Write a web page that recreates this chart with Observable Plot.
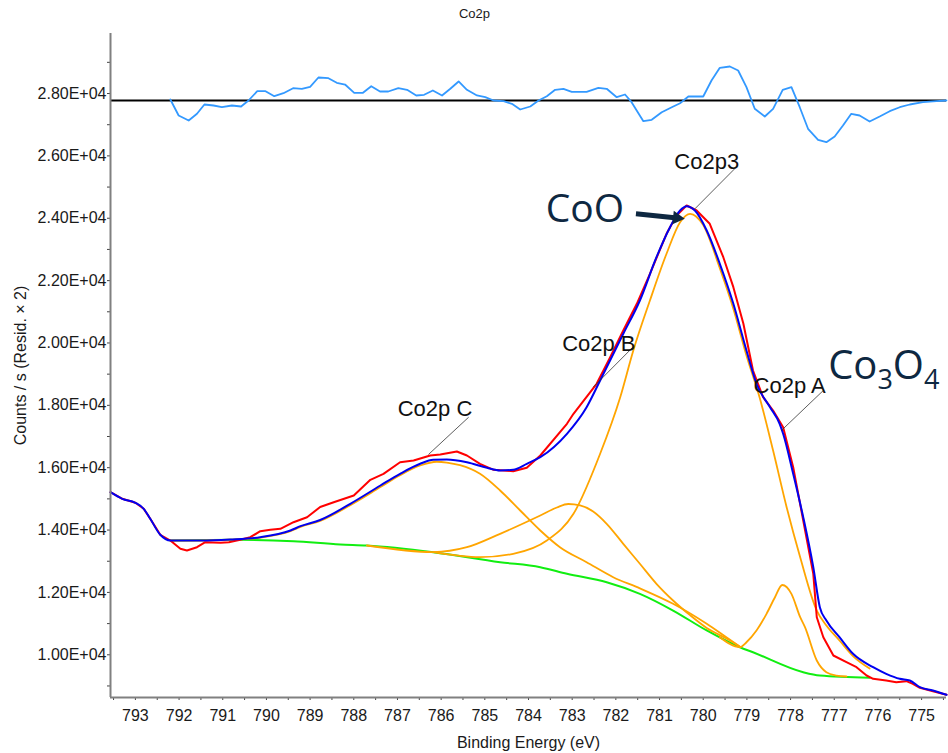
<!DOCTYPE html>
<html>
<head>
<meta charset="utf-8">
<script src="https://cdn.jsdelivr.net/npm/d3@7"></script>
<script src="https://cdn.jsdelivr.net/npm/@observablehq/plot@0.6"></script>
<style>
  html, body { margin: 0; padding: 0; background: #fff; }
  svg { display: block; }
</style>
</head>
<body>
<div id="chart"></div>
<script>
// ---- Data: [binding energy (eV), counts/s] ----
const rawData = [
  [793.57,15214],[793.30,15002],[793.00,14874],[792.81,14682],[792.66,14361],[792.43,13848],
  [792.20,13665],[791.97,13399],[791.82,13344],[791.59,13450],[791.40,13611],[791.05,13592],
  [790.86,13611],[790.60,13688],[790.37,13771],[790.14,13963],[789.91,14008],[789.68,14040],
  [789.38,14252],[789.07,14412],[788.77,14739],[788.46,14893],[788.00,15108],[787.62,15612],
  [787.32,15804],[786.94,16176],[786.63,16231],[786.25,16391],[786.02,16423],[785.64,16519],
  [785.41,16391],[785.11,16125],[784.80,15932],[784.35,15888],[784.04,15997],[783.73,16391],
  [783.12,17408],[782.97,17728],[782.44,18691],[782.13,19544],[781.83,20400],[781.52,21256],
  [781.22,22218],[780.84,23501],[780.61,24088],[780.38,24409],[780.15,24248],[779.85,23822],
  [779.54,22751],[779.31,21789],[779.08,20615],[778.86,19117],[778.63,18261],[778.40,17834],
  [778.17,17299],[777.94,16016],[777.71,14306],[777.48,12597],[777.40,11205],[777.25,10564],
  [777.02,9977],[776.72,9762],[776.49,9602],[776.26,9335],[776.11,9230],[775.81,9175],
  [775.58,9121],[775.35,9153],[775.20,9069],[775.04,8941],[774.74,8832],[774.43,8716]
];
const envelopeData = [
  [793.57,15214],[793.30,15002],[793.00,14874],[792.81,14682],[792.66,14361],[792.43,13848],
  [792.20,13665],[791.51,13665],[790.83,13697],[790.14,13771],[789.45,13986],[789.22,14124],
  [788.77,14322],[788.08,14842],[787.39,15429],[786.94,15804],[786.48,16125],[786.18,16253],
  [785.87,16263],[785.41,16176],[784.95,15997],[784.65,15910],[784.35,15932],[784.04,16125],
  [783.73,16337],[783.12,17087],[782.67,17940],[782.36,18796],[781.83,20294],[781.45,21362],
  [781.07,22751],[780.76,23713],[780.53,24248],[780.38,24386],[780.19,24248],[779.92,23607],
  [779.62,22539],[779.31,21256],[779.01,19759],[778.78,18691],[778.47,17940],[778.25,17408],
  [778.17,17087],[777.94,15804],[777.71,14412],[777.48,12809],[777.33,11526],[777.18,11099],
  [776.88,10564],[776.57,10031],[776.11,9602],[775.81,9390],[775.50,9230],[775.27,9175],
  [775.04,8960],[774.74,8854],[774.43,8716]
];
const backgroundData = [
  [792.20,13665],[790.60,13688],[789.38,13643],[788.31,13537],[787.70,13505],[786.18,13290],
  [784.65,12969],[783.73,12809],[783.12,12597],[782.21,12328],[781.45,11955],[780.69,11420],
  [779.92,10779],[779.16,10243],[778.86,10082],[777.71,9441],[777.33,9335],[776.19,9262]
];
const co2p3Data = [
  [786.18,13290],[785.11,13129],[784.35,13238],[783.58,13665],[782.97,14521],[782.36,16446],
  [781.90,18261],[781.60,19759],[781.22,21362],[780.84,22860],[780.53,23873],[780.30,24143],
  [780.00,23780],[779.62,22400],[779.31,21100],[779.01,19600],[778.71,18261],[778.40,16551],
  [778.09,14733],[777.78,13129],[777.40,11420],[777.18,10939],[776.88,10458],[776.57,9960],
  [776.19,9560]
];
const co2pAData = [
  [779.62,10564],[779.16,10243],[779.01,10403],[778.78,10779],[778.55,11314],[778.36,11837],
  [778.19,12238],[777.98,11955],[777.78,11205],[777.67,10884],[777.40,9816],[777.18,9441],
  [776.95,9335],[776.72,9303]
];
const co2pBData = [
  [787.70,13505],[786.18,13295],[785.41,13450],[784.65,13880],[783.73,14467],[783.35,14723],
  [783.09,14836],[782.82,14788],[782.52,14595],[782.21,14201],[781.83,13559],[781.45,12918],
  [781.07,12276],[780.69,11741],[780.31,11280],[779.92,10860],[779.47,10520],[779.16,10260]
];
const co2pCData = [
  [792.20,13665],[791.51,13665],[790.83,13690],[790.14,13760],[789.45,13965],[789.22,14100],
  [788.77,14295],[788.08,14800],[787.39,15380],[786.94,15760],[786.48,16070],[786.10,16190],
  [785.87,16165],[785.57,16080],[785.11,15804],[784.65,15269],[784.19,14627],[783.73,13986],
  [783.28,13450],[782.67,12969],[782.06,12488],[781.45,12130],[780.69,11635],[779.92,10993],
  [779.47,10560],[779.16,10260]
];
const residualData = [
  [792.20,27808],[792.01,27295],[791.78,27135],[791.59,27350],[791.42,27648],[791.21,27616],
  [791.02,27561],[790.79,27616],[790.58,27584],[790.41,27776],[790.21,28075],[790.02,28075],
  [789.82,27914],[789.61,28010],[789.39,28171],[789.19,28152],[789.00,28216],[788.81,28514],
  [788.58,28491],[788.39,28344],[788.20,28289],[787.99,28023],[787.79,28023],[787.60,28235],
  [787.40,28065],[787.21,28065],[786.98,28171],[786.78,28119],[786.57,27937],[786.39,27959],
  [786.19,28097],[785.98,27937],[785.79,28152],[785.60,28386],[785.41,28119],[785.18,27937],
  [784.99,27882],[784.80,27776],[784.57,27754],[784.38,27670],[784.19,27488],[783.96,27584],
  [783.77,27776],[783.58,27914],[783.39,28119],[783.20,28152],[783.01,28055],[782.67,28055],
  [782.40,28184],[782.21,28152],[781.98,27882],[781.79,27969],[781.64,27722],[781.37,27112],
  [781.18,27157],[780.95,27401],[780.72,27561],[780.53,27690],[780.34,27905],[780.00,27905],
  [779.81,28418],[779.62,28825],[779.39,28867],[779.20,28738],[779.01,28203],[778.82,27510],
  [778.59,27263],[778.40,27510],[778.18,28119],[777.98,28203],[777.79,27561],[777.60,26869],
  [777.37,26516],[777.18,26439],[776.99,26622],[776.80,26974],[776.61,27350],[776.42,27295],
  [776.19,27103],[775.96,27263],[775.73,27433],[775.50,27561],[775.27,27648],[774.97,27722],
  [774.66,27754],[774.43,27776]
];
const residualZero = [27776];

// ---- Axes ----
const xDomain = [793.57, 774.43];
const yDomain = [8630, 29925];
const xMajorTicks = d3.range(775, 794, 1);
const xMinorTicks = d3.range(774.5, 794, 1);
const yMajorTicks = d3.range(10000, 29000, 2000);
const yMinorTicks = d3.range(9000, 30000, 2000);
const yTickFormat = d => (d / 1e4).toFixed(2) + "E+04";

// ---- Text ----
const titleText = ["Co2p"];
const xLabel = ["Binding Energy (eV)"];
const yLabel = ["Counts / s (Resid. \u00d7 2)"];
const peakLabels = [
  {name: "Co2p3", e: 779.92, c: 25797},
  {name: "Co2p B", e: 782.39, c: 19983},
  {name: "Co2p A", e: 778.02, c: 18636},
  {name: "Co2p C", e: 786.14, c: 17889}
];
const leaderLines = [
  {e1: 779.28, c1: 25586, e2: 780.19, c2: 24303},
  {e1: 781.61, c1: 19864, e2: 782.52, c2: 18582},
  {e1: 777.25, c1: 18476, e2: 778.21, c2: 17193},
  {e1: 785.37, c1: 17619, e2: 786.29, c2: 16423}
];
const cooLabel = [{name: "CoO", e: 782.71, c: 24274}];
const co3o4Label = [{name: "Co3O4", e: 777.14, c: 19261}];
const cooArrow = [{e1: 781.54, c1: 24143, e2: 780.60, c2: 24011}];

const X = d => d[0], Y = d => d[1];
const navy = "#0e2841";

const chart = Plot.plot({
  width: 948,
  height: 753,
  marginLeft: 110,
  marginRight: 2,
  marginTop: 33,
  marginBottom: 56,
  x: {domain: xDomain, axis: null},
  y: {domain: yDomain, axis: null},
  style: {
    fontFamily: "'Liberation Sans', Arial, sans-serif",
    fontSize: "16px",
    background: "#fff",
    color: "#1a1a1a"
  },
  marks: [
    // tick marks
    Plot.axisY({ticks: yMajorTicks, tickFormat: () => "", tickSize: 3, label: null, stroke: "#444"}),
    Plot.axisY({ticks: yMinorTicks, tickFormat: () => "", tickSize: 3, label: null, stroke: "#444"}),
    Plot.axisX({ticks: xMajorTicks, tickFormat: () => "", tickSize: 3, label: null, stroke: "#444"}),
    Plot.axisX({ticks: xMinorTicks, tickFormat: () => "", tickSize: 3, label: null, stroke: "#444"}),
    // tick labels
    Plot.text(yMajorTicks, {y: d => d, text: yTickFormat, frameAnchor: "left", dx: -4,
      textAnchor: "end", lineAnchor: "middle", fontSize: 16, fill: "#1a1a1a"}),
    Plot.text(xMajorTicks, {x: d => d, text: d => String(d), frameAnchor: "bottom", dy: 18,
      textAnchor: "middle", lineAnchor: "middle", fontSize: 16, fill: "#1a1a1a"}),

    Plot.ruleY(residualZero, {stroke: "#000", strokeWidth: 2}),
    Plot.line(residualData, {x: X, y: Y, stroke: "#3399ff", strokeWidth: 1.8}),

    Plot.line(backgroundData, {x: X, y: Y, stroke: "#11ee11", strokeWidth: 2, curve: "monotone-x"}),
    Plot.line(co2pCData, {x: X, y: Y, stroke: "#ffa500", strokeWidth: 1.8, curve: "monotone-x"}),
    Plot.line(co2pBData, {x: X, y: Y, stroke: "#ffa500", strokeWidth: 1.8, curve: "monotone-x"}),
    Plot.line(co2pAData, {x: X, y: Y, stroke: "#ffa500", strokeWidth: 1.8, curve: "monotone-x"}),
    Plot.line(co2p3Data, {x: X, y: Y, stroke: "#ffa500", strokeWidth: 1.8, curve: "monotone-x"}),
    Plot.line(rawData, {x: X, y: Y, stroke: "#ff0000", strokeWidth: 2}),
    Plot.line(envelopeData, {x: X, y: Y, stroke: "#0000f0", strokeWidth: 2, curve: "monotone-x"}),

    Plot.link(leaderLines, {x1: "e1", y1: "c1", x2: "e2", y2: "c2", stroke: "#333", strokeWidth: 0.8}),
    Plot.text(peakLabels, {x: "e", y: "c", text: "name", fontSize: 22, textAnchor: "middle",
      lineAnchor: "middle", fill: "#111"}),

    Plot.link(cooArrow, {x1: "e1", y1: "c1", x2: "e2", y2: "c2", stroke: navy, strokeWidth: 5}),
    Plot.dot(cooArrow, {x: "e2", y: "c2", symbol: "triangle2", r: 6.5, fill: navy, stroke: "none", rotate: 95.7}),
    Plot.text(cooLabel, {x: "e", y: "c", text: "name", fontSize: 39, fontFamily: "'Open Sans', sans-serif",
      textAnchor: "middle", lineAnchor: "middle", fill: navy}),
    Plot.text(co3o4Label, {x: "e", y: "c", text: "name", fontSize: 40, fontFamily: "'Open Sans', sans-serif",
      textAnchor: "start", lineAnchor: "middle", fill: navy}),

    Plot.ruleX([xDomain[0]], {stroke: "#808080", strokeWidth: 2}),
    Plot.ruleY([yDomain[0]], {stroke: "#808080", strokeWidth: 2}),

    Plot.text(titleText, {text: d => d, frameAnchor: "top", dx: -54, dy: -20, fontSize: 13,
      textAnchor: "middle", lineAnchor: "middle"}),
    Plot.text(xLabel, {text: d => d, frameAnchor: "bottom", dy: 45, fontSize: 16,
      textAnchor: "middle", lineAnchor: "middle"}),
    Plot.text(yLabel, {text: d => d, frameAnchor: "left", dx: -90, rotate: -90, fontSize: 16,
      textAnchor: "middle", lineAnchor: "middle"})
  ]
});

// subscripts for Co3O4
d3.select(chart).selectAll("text").filter(function () { return this.textContent === "Co3O4"; })
  .each(function () {
    const t = d3.select(this);
    t.text(null);
    t.append("tspan").text("Co");
    t.append("tspan").attr("dy", 10).attr("font-size", 27).text("3");
    t.append("tspan").attr("dy", -10).text("O");
    t.append("tspan").attr("dy", 10).attr("font-size", 27).text("4");
  });

document.getElementById("chart").appendChild(chart);
</script>
</body>
</html>
